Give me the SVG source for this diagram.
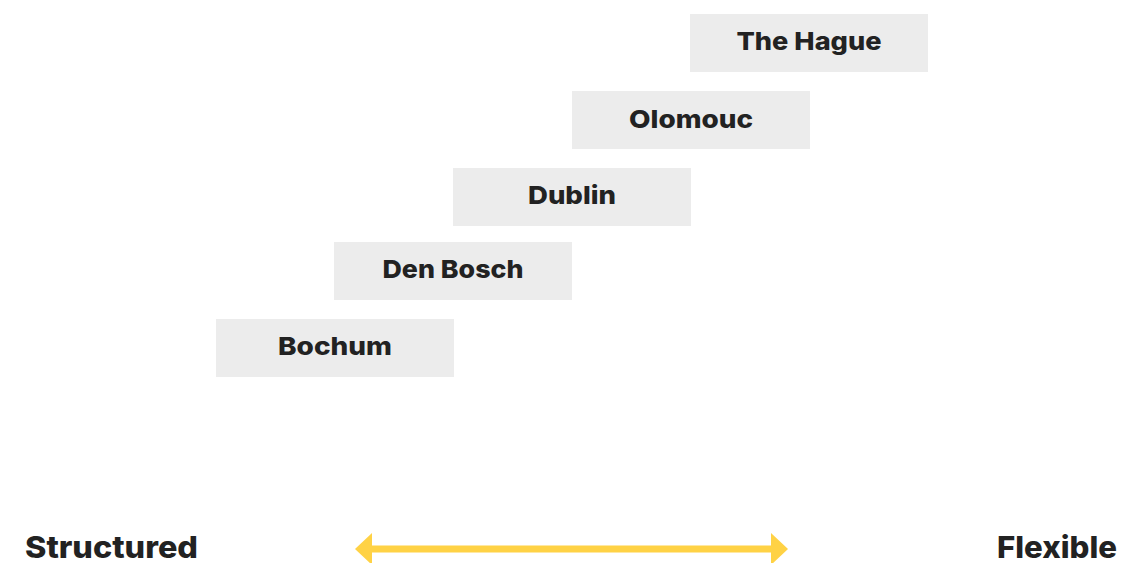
<svg xmlns="http://www.w3.org/2000/svg" width="1121" height="563" viewBox="0 0 1121 563">
<style>
.box{fill:#ececec}
.lbl{font-family:Inter,"Open Sans","Liberation Sans",sans-serif;font-weight:800;font-size:25px;fill:#222;text-anchor:middle}
.axis{font-family:Inter,"Open Sans","Liberation Sans",sans-serif;font-weight:800;font-size:30px;fill:#222}
.arr{fill:#ffd245}
</style>
<rect width="1121" height="563" fill="#fff"/>
<g id="node-bochum"><rect class="box" x="216" y="319" width="238" height="58"/><text class="lbl" x="335" y="355" textLength="114" lengthAdjust="spacingAndGlyphs">Bochum</text></g>
<g id="node-denbosch"><rect class="box" x="334" y="242" width="238" height="58"/><text class="lbl" x="453" y="278" textLength="141" lengthAdjust="spacingAndGlyphs">Den Bosch</text></g>
<g id="node-dublin"><rect class="box" x="453" y="168" width="238" height="58"/><text class="lbl" x="572" y="204" textLength="88" lengthAdjust="spacingAndGlyphs">Dublin</text></g>
<g id="node-olomouc"><rect class="box" x="572" y="91" width="238" height="58"/><text class="lbl" x="691" y="128" textLength="124" lengthAdjust="spacingAndGlyphs">Olomouc</text></g>
<g id="node-thehague"><rect class="box" x="690" y="14" width="238" height="58"/><text class="lbl" x="809" y="50" textLength="145" lengthAdjust="spacingAndGlyphs">The Hague</text></g>
<g id="connectors">
<rect class="arr" x="370" y="545.5" width="403" height="7"/>
<polygon class="arr" points="355,549 372,533 372,565"/>
<polygon class="arr" points="788,549 771,533 771,565"/>
</g>
<g id="axis-labels">
<text class="axis" x="25" y="558" textLength="173" lengthAdjust="spacingAndGlyphs">Structured</text>
<text class="axis" x="997" y="558" textLength="120" lengthAdjust="spacingAndGlyphs">Flexible</text>
</g>
</svg>
